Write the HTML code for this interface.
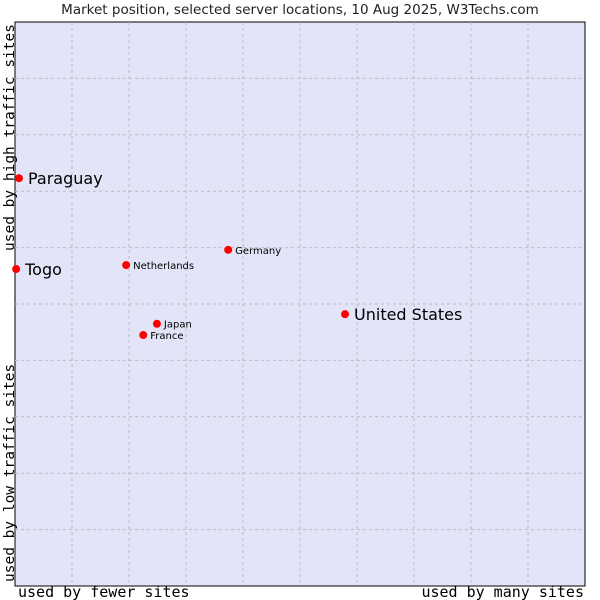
<!DOCTYPE html>
<html><head><meta charset="utf-8"><style>
body{margin:0;background:#fff;}
svg{display:block;}
</style></head><body>
<svg id="chart" width="600" height="600" xmlns="http://www.w3.org/2000/svg">
<text x="300" y="14" text-anchor="middle" font-family="DejaVu Sans, sans-serif" font-size="13.5" fill="#222">Market position, selected server locations, 10 Aug 2025, W3Techs.com</text>
<rect x="15" y="22" width="570" height="564" fill="#e4e4f8" stroke="#000" stroke-width="1"/>
<g id="grid"></g>
<g id="points"></g>
<text x="18" y="597" font-family="DejaVu Sans Mono, monospace" font-size="15" fill="#000">used by fewer sites</text>
<text x="584" y="597" text-anchor="end" font-family="DejaVu Sans Mono, monospace" font-size="15" fill="#000">used by many sites</text>
<text transform="translate(14,24) rotate(-90)" text-anchor="end" font-family="DejaVu Sans Mono, monospace" font-size="14.5" fill="#000">used by high traffic sites</text>
<text transform="translate(14,582) rotate(-90)" font-family="DejaVu Sans Mono, monospace" font-size="14.5" fill="#000">used by low traffic sites</text>
</svg>
<script>
const names = ["Paraguay","Togo","Netherlands","Germany","United States","Japan","France"];
const xValues = [0.7,0.2,19.5,37.4,57.9,24.9,22.5];
const yValues = [72.3,56.2,56.9,59.6,48.2,46.5,44.5];
const bigLabel = [true,true,false,false,true,false,false];
const ns="http://www.w3.org/2000/svg";
const X0=15,X1=585,Y0=586,Y1=22;
function sx(v){return X0+(X1-X0)*v/100;}
function sy(v){return Y0-(Y0-Y1)*v/100;}
const grid=document.getElementById('grid');
for(let i=1;i<10;i++){
  const v=document.createElementNS(ns,'line');
  v.setAttribute('x1',sx(i*10));v.setAttribute('x2',sx(i*10));v.setAttribute('y1',Y1);v.setAttribute('y2',Y0);
  v.setAttribute('stroke','#bbb');v.setAttribute('stroke-dasharray','3,3');
  
  
  grid.appendChild(v);
  const h=document.createElementNS(ns,'line');
  h.setAttribute('y1',sy(i*10));h.setAttribute('y2',sy(i*10));h.setAttribute('x1',X0);h.setAttribute('x2',X1);
  h.setAttribute('stroke','#bbb');h.setAttribute('stroke-dasharray','3,3');
  
  
  grid.appendChild(h);
}
const pts=document.getElementById('points');
names.forEach((n,i)=>{
  const x=sx(xValues[i]),y=sy(yValues[i]);
  const c=document.createElementNS(ns,'circle');
  c.setAttribute('cx',x);c.setAttribute('cy',y);c.setAttribute('r',4);c.setAttribute('fill','#f00');
  
  
  pts.appendChild(c);
  const t=document.createElementNS(ns,'text');
  const big=bigLabel[i];
  t.setAttribute('x',x+(big?9:7));t.setAttribute('y',y+(big?6:4));
  t.setAttribute('font-family','DejaVu Sans, sans-serif');
  t.setAttribute('font-size',big?16:10);t.setAttribute('fill','#000');
  t.textContent=n;
  
  
  pts.appendChild(t);
});
</script>
</body></html>
